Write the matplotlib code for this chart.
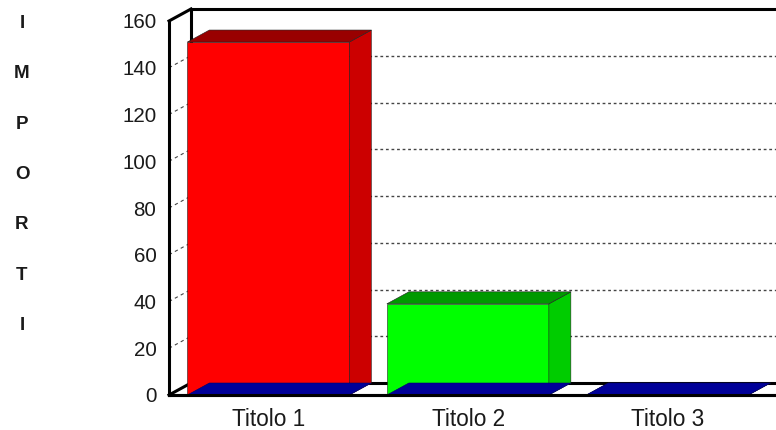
import matplotlib
matplotlib.use("Agg")
import matplotlib.pyplot as plt
from matplotlib.patches import Polygon

plt.rcParams['font.family'] = ['Liberation Sans', 'DejaVu Sans']

# chart data
categories = ['Titolo 1', 'Titolo 2', 'Titolo 3']
values = [151, 39, 0]
y_ticks = [0, 20, 40, 60, 80, 100, 120, 140, 160]
y_title = ['I', 'M', 'P', 'O', 'R', 'T', 'I']
front_colors = ['#ff0000', '#00ff00', '#000099']
side_colors = ['#cc0000', '#00cc00', '#000099']
top_colors = ['#990000', '#009900', '#000099']

W, H = 776, 430
fig = plt.figure(figsize=(W / 100, H / 100), dpi=100, facecolor='white')

# axes box is the front plane of the 3d frame
ax = fig.add_axes([169 / W, 1 - 395 / H, 607 / W, 374 / H])
ax.set_xlim(0, 607 / 199.5)
ax.set_ylim(0, 160)
ax.patch.set_visible(False)
for s in ax.spines.values():
    s.set_visible(False)

# depth of the 3d effect in data units
dx = 22 / 199.5
dy = 12 / 374 * 160
x_end = ax.get_xlim()[1]
frame_lw = 2.2

# dashed grid on the back wall and the left wall
for t in y_ticks[1:-1]:
    ax.plot([dx, x_end], [t + dy, t + dy], color='#444444', lw=1.0,
            ls=(0, (2, 2)), zorder=1, clip_on=False)
    ax.plot([0, dx], [t, t + dy], color='#444444', lw=0.8,
            ls=(0, (3, 3)), zorder=1, clip_on=False)

# frame
frame = dict(color='black', lw=frame_lw, zorder=2, clip_on=False,
             solid_capstyle='projecting')
ax.plot([0, 0], [0, 160], **frame)
ax.plot([dx, dx], [dy, 160 + dy], **frame)
ax.plot([0, dx], [160, 160 + dy], **frame)
ax.plot([dx, x_end], [160 + dy, 160 + dy], **frame)
ax.plot([0, x_end], [0, 0], **frame)
ax.plot([dx, x_end], [dy, dy], **frame)
ax.plot([0, dx], [0, dy], **frame)

# bars
bar_w = 162 / 199.5
for i, v in enumerate(values):
    x0 = i + 0.498 - bar_w / 2
    x1 = x0 + bar_w
    front = [(x0, 0), (x1, 0), (x1, v), (x0, v)]
    side = [(x1, 0), (x1 + dx, dy), (x1 + dx, v + dy), (x1, v)]
    top = [(x0, v), (x1, v), (x1 + dx, v + dy), (x0 + dx, v + dy)]
    floor = [(x0, 0), (x1, 0), (x1 + dx, dy), (x0 + dx, dy)]
    for pts, col in [(front, front_colors[i]), (side, side_colors[i]),
                     (top, top_colors[i])]:
        ax.add_patch(Polygon(pts, closed=True, facecolor=col, edgecolor='#202020',
                             lw=0.4, zorder=3, clip_on=False))
    # blue base of each column
    ax.add_patch(Polygon(floor, closed=True, facecolor='#000099', edgecolor='#000066',
                         lw=0.4, zorder=4, clip_on=False))

# redraw the front floor edge above the bases
ax.plot([0, x_end], [0, 0], color='black', lw=frame_lw, zorder=5, clip_on=False)

ax.set_yticks(y_ticks)
ax.set_xticks([i + 0.5 for i in range(len(categories))])
ax.set_xticklabels(categories)
ax.tick_params(axis='y', length=0, pad=9, labelsize=14.8, labelcolor='#1a1a1a')
ax.tick_params(axis='x', length=0, pad=9.5, labelsize=16.3, labelcolor='#1a1a1a')

# vertical axis title, one letter per row
for i, letter in enumerate(y_title):
    fig.text(22 / W, 1 - (23.5 + i * 50.3) / H, letter, fontsize=13.5, fontweight='bold',
             color='#1a1a1a', ha='center', va='center')

plt.savefig('out.png', dpi=100)
